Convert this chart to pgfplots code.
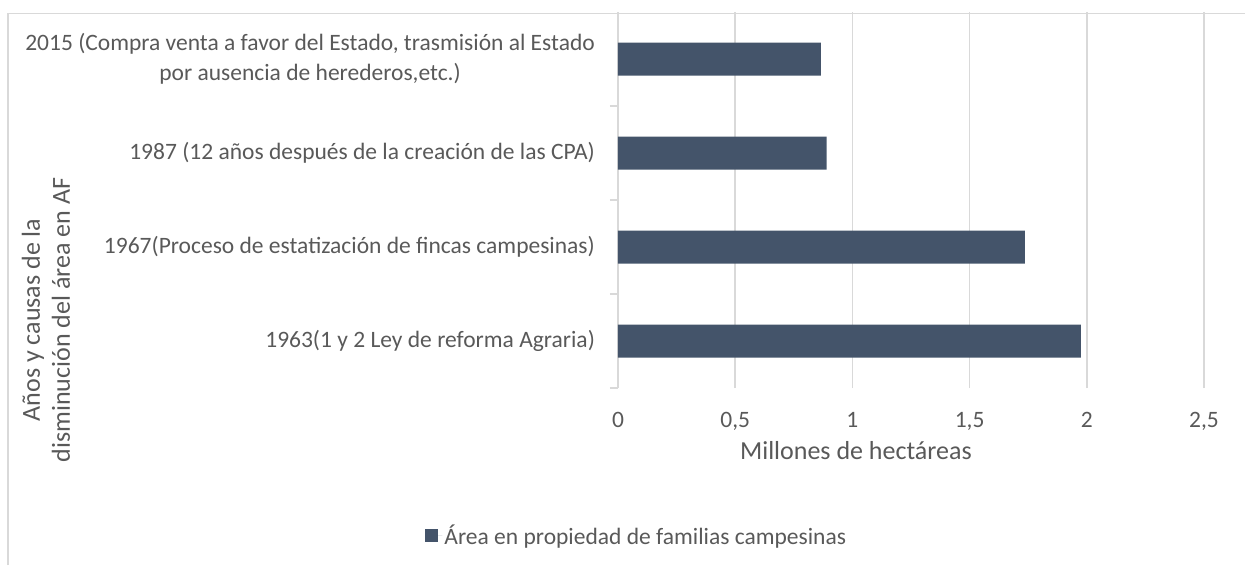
\documentclass[border=0pt]{standalone}
\usepackage{pgfplots}
\pgfplotsset{compat=1.18}
\usepackage{fontspec}
\setmainfont{Carlito}
\definecolor{barc}{HTML}{44546A}
\definecolor{txt}{HTML}{595959}
\definecolor{grd}{HTML}{D9D9D9}
\begin{document}
\begin{tikzpicture}
\useasboundingbox (0,0) rectangle (1245pt,565pt);
\draw[grd, line width=1.6pt] (8pt,0pt) -- (8pt,551.5pt) -- (1245pt,551.5pt);
\begin{axis}[
  at={(618pt,177pt)}, anchor=south west,
  scale only axis, width=586pt, height=376pt,
  xbar, bar width=33pt,
  xmin=0, xmax=2.5, ymin=-0.5, ymax=3.5,
  xtick={0,0.5,1,1.5,2,2.5},
  /pgf/number format/use comma,
  /pgf/number format/assume math mode=true,
  ytick={0,1,2,3},
  yticklabels={{1963(1 y 2 Ley de reforma Agraria)},{1967(Proceso de estatización de fincas campesinas)},{1987 (12 años después de la creación de las CPA)},{2015 (Compra venta a favor del Estado, trasmisión al Estado\\por ausencia de herederos,etc.)}},
  minor ytick={-0.5,0.5,1.5,2.5},
  major tick length=0pt, minor tick length=8pt, tick align=outside,
  ytick pos=left,
  minor y tick style={grd, line width=1.6pt},
  axis line style={draw=none},
  xmajorgrids, major x grid style={grd, line width=1.6pt},
  tick label style={font=\fontsize{23.5}{30}\selectfont, text=txt},
  yticklabel style={anchor=east, align=center, inner sep=0pt, xshift=-23pt},
  xticklabel style={anchor=north, inner sep=0pt, yshift=-24pt},
  xlabel={Millones de hectáreas},
  ylabel={Años y causas de la\\disminución del área en AF},
  label style={font=\fontsize{26}{30}\selectfont, text=txt},
  xlabel style={at={(axis description cs:0.406,-0.189)}, anchor=base, inner sep=0pt},
  ylabel style={at={(axis description cs:-0.976,0.181)}, anchor=center, align=center, inner sep=0pt},
  legend style={at={(axis description cs:0.032,-0.391)}, anchor=center, draw=none, fill=none,
    font=\fontsize{23.5}{28}\selectfont, text=txt},
  legend image code/.code={\path (0pt,0pt) -- (17pt,0pt); \fill[barc] (0pt,-6.5pt) rectangle (13pt,6.5pt);},
]
\addplot[fill=barc, draw=none] coordinates {(1.975,0) (1.736,1) (0.89,2) (0.865,3)};
\addlegendentry{Área en propiedad de familias campesinas}
\end{axis}
\end{tikzpicture}
\end{document}
